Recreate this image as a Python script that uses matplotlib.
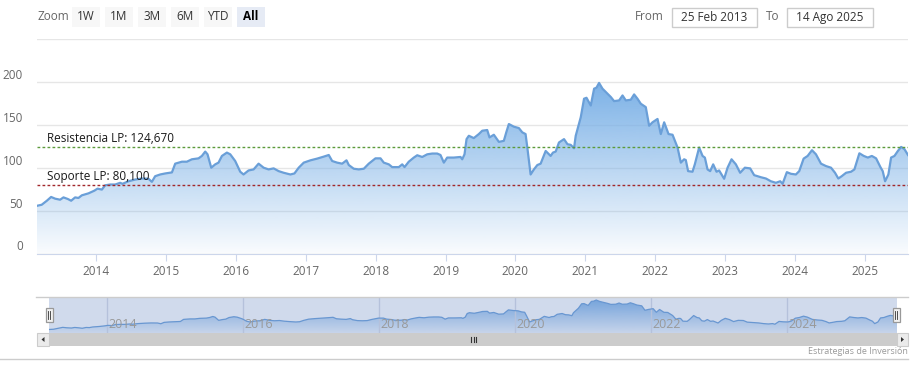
import matplotlib
matplotlib.use("Agg")
import matplotlib.pyplot as plt
import matplotlib.dates as mdates
from matplotlib.patches import Rectangle, Polygon
from matplotlib.colors import to_rgb
import numpy as np
from datetime import datetime, timedelta

W, H = 918, 368

# fecha (anio decimal) y cotizacion
years = [2013.153, 2013.220, 2013.294, 2013.355, 2013.413, 2013.484, 2013.532, 2013.595,
         2013.642, 2013.699, 2013.746, 2013.795, 2013.890, 2013.976, 2014.019, 2014.082,
         2014.129, 2014.201, 2014.272, 2014.344, 2014.377, 2014.463, 2014.559, 2014.655,
         2014.749, 2014.798, 2014.845, 2014.917, 2014.989, 2015.060, 2015.085, 2015.132,
         2015.228, 2015.299, 2015.371, 2015.466, 2015.514, 2015.562, 2015.595, 2015.648,
         2015.705, 2015.752, 2015.801, 2015.872, 2015.920, 2015.991, 2016.063, 2016.110,
         2016.182, 2016.254, 2016.325, 2016.397, 2016.468, 2016.540, 2016.612, 2016.683,
         2016.779, 2016.837, 2016.898, 2016.970, 2017.066, 2017.162, 2017.256, 2017.328,
         2017.377, 2017.448, 2017.520, 2017.582, 2017.615, 2017.686, 2017.758, 2017.830,
         2017.901, 2017.997, 2018.069, 2018.116, 2018.188, 2018.236, 2018.331, 2018.380,
         2018.413, 2018.474, 2018.546, 2018.595, 2018.666, 2018.738, 2018.810, 2018.881,
         2018.928, 2018.976, 2019.024, 2019.119, 2019.215, 2019.239, 2019.272, 2019.301,
         2019.334, 2019.405, 2019.477, 2019.526, 2019.597, 2019.630, 2019.692, 2019.764,
         2019.835, 2019.870, 2019.907, 2019.979, 2020.050, 2020.099, 2020.146, 2020.171,
         2020.218, 2020.265, 2020.314, 2020.361, 2020.433, 2020.504, 2020.537, 2020.576,
         2020.623, 2020.695, 2020.744, 2020.791, 2020.838, 2020.862, 2020.934, 2020.981,
         2021.016, 2021.077, 2021.125, 2021.159, 2021.196, 2021.245, 2021.317, 2021.364,
         2021.411, 2021.483, 2021.532, 2021.579, 2021.650, 2021.698, 2021.746, 2021.794,
         2021.865, 2021.913, 2021.961, 2022.033, 2022.080, 2022.128, 2022.191, 2022.248,
         2022.320, 2022.367, 2022.414, 2022.438, 2022.471, 2022.534, 2022.567, 2022.629,
         2022.678, 2022.711, 2022.749, 2022.787, 2022.830, 2022.878, 2022.915, 2022.987,
         2023.036, 2023.093, 2023.155, 2023.216, 2023.284, 2023.360, 2023.417, 2023.466,
         2023.513, 2023.585, 2023.656, 2023.728, 2023.790, 2023.824, 2023.885, 2023.943,
         2024.014, 2024.062, 2024.125, 2024.182, 2024.244, 2024.301, 2024.373, 2024.444,
         2024.516, 2024.573, 2024.620, 2024.669, 2024.731, 2024.802, 2024.850, 2024.921,
         2024.984, 2025.042, 2025.099, 2025.160, 2025.222, 2025.255, 2025.289, 2025.336,
         2025.375, 2025.423, 2025.472, 2025.519, 2025.567, 2025.617]
prices = [55.6, 56.8, 61.5, 65.9, 63.9, 62.7, 65.4, 63.5,
          61.5, 65.4, 64.7, 67.8, 70.1, 73.3, 75.6, 74.5,
          79.5, 80.4, 80.4, 82.4, 81.2, 84.2, 86.2, 87.4,
          87.1, 83.5, 90.1, 92.1, 93.3, 94.1, 94.5, 104.7,
          107.0, 107.0, 109.8, 110.9, 113.7, 118.8, 115.6, 100.0,
          103.9, 105.9, 113.7, 117.6, 115.6, 107.8, 95.3, 92.1,
          96.8, 98.0, 104.7, 100.0, 98.0, 99.2, 96.0, 94.1,
          92.1, 93.3, 100.0, 105.9, 108.6, 110.6, 112.9, 114.8,
          107.8, 105.9, 104.7, 108.6, 103.1, 98.8, 98.0, 98.8,
          104.7, 110.9, 110.9, 105.9, 103.9, 100.7, 100.7, 103.9,
          100.7, 107.0, 111.8, 114.5, 112.5, 115.6, 116.5, 116.5,
          114.8, 105.9, 111.8, 111.8, 112.5, 109.8, 115.6, 133.3,
          137.2, 134.5, 139.2, 143.1, 143.9, 135.3, 138.4, 130.1,
          131.3, 141.2, 150.9, 147.8, 146.2, 141.2, 139.2, 123.5,
          92.1, 98.0, 103.1, 104.7, 119.5, 113.7, 117.6, 118.8,
          129.4, 133.3, 127.4, 126.6, 122.7, 137.2, 158.8, 180.4,
          181.5, 172.5, 192.1, 193.3, 198.8, 192.1, 186.2, 182.4,
          177.6, 178.4, 184.2, 178.4, 179.2, 185.4, 180.4, 174.5,
          170.6, 148.9, 152.9, 156.8, 139.2, 152.9, 139.2, 138.4,
          123.5, 105.9, 109.8, 108.9, 96.0, 95.3, 103.9, 123.5,
          113.7, 111.8, 98.0, 96.0, 103.9, 95.3, 96.8, 87.1,
          100.0, 109.8, 103.9, 94.1, 100.0, 99.2, 91.3, 90.1,
          88.9, 87.4, 84.2, 82.4, 84.2, 81.2, 94.8, 92.9,
          92.1, 96.0, 110.6, 113.7, 120.4, 115.6, 104.7, 101.9,
          100.0, 94.1, 87.4, 90.1, 94.1, 95.3, 98.0, 116.8,
          113.7, 111.8, 113.7, 110.9, 100.7, 96.0, 84.2, 92.1,
          111.8, 113.7, 119.5, 124.2, 121.5, 114.8]

resistencia = 124.670
soporte = 80.100
range_buttons = ["1W", "1M", "3M", "6M", "YTD", "All"]
selected_button = "All"
date_from = "25 Feb 2013"
date_to = "14 Ago 2025"
credit = "Estrategias de Inversión"

plt.rcParams['font.family'] = ['Open Sans', 'DejaVu Sans']


def to_date(y):
    yr = int(y)
    start = datetime(yr, 1, 1)
    ndays = (datetime(yr + 1, 1, 1) - start).days
    return start + timedelta(days=(y - yr) * ndays)


x = mdates.date2num([to_date(y) for y in years])
y = np.array(prices)
x0, x1 = x[0], x[-1]


def rect(l, t, r, b):
    return [l / W, 1 - b / H, (r - l) / W, (b - t) / H]


def gradient_area(ax, xs, ys, base, top, rgb, a_top, a_bot, z):
    poly = Polygon(np.column_stack([np.r_[xs[0], xs, xs[-1]], np.r_[base, ys, base]]),
                   closed=True, facecolor='none', edgecolor='none')
    ax.add_patch(poly)
    grad = np.zeros((256, 1, 4))
    grad[:, 0, :3] = rgb
    grad[:, 0, 3] = np.linspace(a_top, a_bot, 256)
    im = ax.imshow(grad, aspect='auto', extent=[xs[0], xs[-1], base, top],
                   origin='upper', zorder=z, interpolation='bilinear')
    im.set_clip_path(poly)


fig = plt.figure(figsize=(W / 100, H / 100), dpi=100)
fig.patch.set_facecolor('white')

# ---- grafico principal
ax = fig.add_axes(rect(37, 39, 908, 253.5))
blue = to_rgb('#78afe6')
gradient_area(ax, x, y, 0, y.max(), blue, 0.97, 0.04, 1)
ax.plot(x, y, color='#6a9fd8', lw=1.6, zorder=3, solid_joinstyle='round')

ax.axhline(resistencia, color='#5c9b3c', lw=1, ls=(0, (2, 1.6)), zorder=4)
ax.axhline(soporte, color='#a3282c', lw=1, ls=(0, (2, 1.6)), zorder=4)
fmt = lambda v: f"{v:.3f}".replace('.', ',')
ax.annotate(f"Resistencia LP: {fmt(resistencia)}", xy=(0.0115, resistencia),
            xycoords=('axes fraction', 'data'), xytext=(0, 1.5), textcoords='offset pixels',
            va='bottom', ha='left', fontsize=8.5, color='#1a1a1a', zorder=5)
ax.annotate(f"Soporte LP: {fmt(soporte)}", xy=(0.0115, soporte),
            xycoords=('axes fraction', 'data'), xytext=(0, 1.5), textcoords='offset pixels',
            va='bottom', ha='left', fontsize=8.5, color='#1a1a1a', zorder=5)

ax.set_xlim(x0, x1)
ax.set_ylim(0, 250)
ax.set_yticks([0, 50, 100, 150, 200, 250])
ax.set_yticklabels(['0', '50', '100', '150', '200', ''])
ax.yaxis.grid(True, color='#e6e6e6', lw=1)
ax.set_axisbelow(True)
ax.xaxis.set_major_locator(mdates.YearLocator())
ax.xaxis.set_major_formatter(mdates.DateFormatter('%Y'))
for s in ['top', 'right', 'left']:
    ax.spines[s].set_visible(False)
ax.spines['bottom'].set_color('#ccd6eb')
ax.tick_params(axis='y', length=0, pad=10, labelsize=8.5, labelcolor='#666666')
ax.tick_params(axis='x', length=5, color='#ccd6eb', pad=3, labelsize=8.5, labelcolor='#666666')
for lbl in ax.get_yticklabels():
    lbl.set_verticalalignment('bottom')

# ---- navegador
nav = fig.add_axes(rect(49, 297, 897, 333))
gradient_area(nav, x, y, 38.5, y.max(), blue, 0.95, 0.1, 1)
nav.plot(x, y, color='#6a9fd8', lw=0.9, zorder=3)
nav.set_xlim(x0, x1)
nav.set_ylim(38.5, 213.5)
nav.axvspan(x0, x1, color=(102 / 255, 133 / 255, 194 / 255), alpha=0.3, lw=0, zorder=4)
for yr in range(2014, 2026, 2):
    d = mdates.date2num(datetime(yr, 1, 1))
    nav.axvline(d, color='#d8dce6', lw=1, zorder=2)
    nav.annotate(str(yr), xy=(d, 0), xycoords=('data', 'axes fraction'),
                 xytext=(2, 8), textcoords='offset pixels', ha='left', va='center',
                 fontsize=9, color='#999999', zorder=5)
nav.set_xticks([])
nav.set_yticks([])
for s in nav.spines.values():
    s.set_visible(False)

# ---- capa de interfaz (botones, barra de desplazamiento)
ui = fig.add_axes([0, 0, 1, 1], zorder=10)
ui.set_xlim(0, W)
ui.set_ylim(H, 0)
ui.axis('off')
ui.patch.set_alpha(0)

ui.text(37, 17, "Zoom", ha='left', va='center', fontsize=8.5, color='#666666')
for i, lab in enumerate(range_buttons):
    bx = 72 + 33 * i
    sel = lab == selected_button
    ui.add_patch(Rectangle((bx, 7), 28, 20, facecolor='#e6ebf5' if sel else '#f7f7f7', lw=0))
    ui.text(bx + 14, 17, lab, ha='center', va='center', fontsize=8.5,
            color='#000000' if sel else '#333333', fontweight='bold' if sel else 'normal')

ui.text(664, 17, "From", ha='right', va='center', fontsize=8.5, color='#666666')
ui.add_patch(Rectangle((672, 8), 85, 19, facecolor='white', edgecolor='#cccccc', lw=1))
ui.text(714.5, 17.5, date_from, ha='center', va='center', fontsize=8.5, color='#333333')
ui.text(766, 17, "To", ha='left', va='center', fontsize=8.5, color='#666666')
ui.add_patch(Rectangle((787, 8), 86, 19, facecolor='white', edgecolor='#cccccc', lw=1))
ui.text(830, 17.5, date_to, ha='center', va='center', fontsize=8.5, color='#333333')

# contorno navegador
ui.plot([36, 908], [297, 297], color='#cccccc', lw=1)
# barra de desplazamiento
ui.add_patch(Rectangle((37, 333), 871, 13, facecolor='#f2f2f2', lw=0))
ui.add_patch(Rectangle((49, 333), 848, 13, facecolor='#cccccc', lw=0))
ui.add_patch(Rectangle((37, 333), 12, 13, facecolor='#ebebeb', edgecolor='#cccccc', lw=0.8))
ui.add_patch(Rectangle((897, 333), 11, 13, facecolor='#ebebeb', edgecolor='#cccccc', lw=0.8))
ui.add_patch(Polygon([[44.5, 337], [44.5, 342], [41.5, 339.5]], facecolor='#333333', lw=0))
ui.add_patch(Polygon([[901, 337], [901, 342], [904, 339.5]], facecolor='#333333', lw=0))
for gx in (471, 473.5, 476):
    ui.plot([gx, gx], [337, 342], color='#333333', lw=0.8)
# manejadores
for hx in (49, 896):
    ui.add_patch(Rectangle((hx - 3.5, 308), 7, 14, facecolor='#f2f2f2', edgecolor='#999999', lw=0.9))
    for lx in (hx - 1, hx + 1):
        ui.plot([lx, lx], [311, 319], color='#333333', lw=0.6)

ui.plot([0, 908], [359, 359], color='#cccccc', lw=1)
ui.text(908, 351, credit, ha='right', va='center', fontsize=6.5, color='#999999')

fig.savefig("out.png", dpi=100)
